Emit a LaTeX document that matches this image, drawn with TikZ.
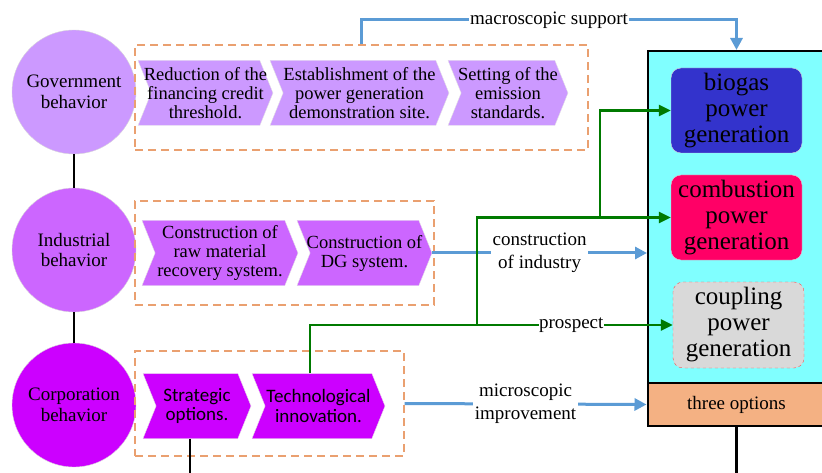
\documentclass[tikz,border=0pt]{standalone}
\usepackage{fontspec}
\setmainfont{Liberation Serif}
\newfontfamily\calfont{Carlito}
\usetikzlibrary{arrows.meta,shapes.symbols,positioning,calc}
\definecolor{govc}{RGB}{204,153,255}
\definecolor{indc}{RGB}{204,102,255}
\definecolor{corpc}{RGB}{204,0,255}
\definecolor{dashc}{RGB}{234,160,112}
\definecolor{bluec}{RGB}{91,155,213}
\definecolor{grnc}{RGB}{0,122,0}
\definecolor{cyanc}{RGB}{128,255,255}
\definecolor{bioc}{RGB}{51,51,204}
\definecolor{combc}{RGB}{255,0,102}
\definecolor{coupc}{RGB}{217,217,217}
\definecolor{optc}{RGB}{244,177,131}

\begin{document}
\begin{tikzpicture}[x=1pt,y=-1pt,
    actor/.style={circle, fill=#1, draw=gray!30, minimum size=124pt, inner sep=0pt,
                  align=center, font=\fontsize{19}{20.5}\selectfont},
    chev/.style={signal, signal to=east, signal from=west, signal pointer angle=136,
                 fill=#1, draw=gray!20, minimum height=65pt, inner ysep=0pt, inner xsep=-14pt,
                 align=center, font=\fontsize{18.5}{19}\selectfont},
    grp/.style={draw=dashc, dash pattern=on 8pt off 5pt, line width=1.2pt},
    tier/.style={rounded corners=10pt, fill=#1, draw=gray!30, minimum width=131pt,
                 minimum height=85pt, align=center, font=\fontsize{25}{26}\selectfont},
    blu/.style={draw=bluec, line width=3pt, -{Triangle[length=12pt,width=12pt]}},
    grn/.style={draw=grnc, line width=2.5pt, -{Triangle[length=12pt,width=11pt]}},
    blk/.style={draw=black, line width=2.8pt},
    lbl/.style={fill=white, inner sep=1.5pt, align=center, font=\fontsize{19}{23}\selectfont}]

    \useasboundingbox (0,0) rectangle (822,473);
    \clip (0,0) rectangle (822,473);

    % actors on the left
    \node[actor=govc]  (gov)  at (74,92)  {Government\\behavior};
    \node[actor=indc]  (ind)  at (74,250) {Industrial\\behavior};
    \node[actor=corpc] (corp) at (74,405) {Corporation\\behavior};
    \draw[blk] (gov) -- (ind);
    \draw[blk] (ind) -- (corp);

    % dashed groups
    \node[grp, minimum width=453pt, minimum height=105pt] (govbox)  at (361.5,97.5)  {};
    \node[grp, minimum width=299pt, minimum height=104pt] (indbox)  at (284.5,253)   {};
    \node[grp, minimum width=269pt, minimum height=105pt] (corpbox) at (269.5,403.5) {};

    % measures
    \node[chev=govc, minimum width=135pt] (gov1) at (205.5,93) {Reduction of the\\financing credit\\threshold.};
    \node[chev=govc, minimum width=179pt] (gov2) at (359.5,93) {Establishment of the\\power generation\\demonstration site.};
    \node[chev=govc, minimum width=120pt] (gov3) at (508,93)   {Setting of the\\emission\\standards.};
    \node[chev=indc, minimum width=156pt] (ind1) at (220,253)  {Construction of\\raw material\\recovery system.};
    \node[chev=indc, minimum width=135pt] (ind2) at (364.5,253) {Construction of\\DG system.};
    \node[chev=corpc, minimum width=108pt, font=\calfont\fontsize{19}{19.5}\selectfont] (strat) at (197,406)   {Strategic\\options.};
    \node[chev=corpc, minimum width=133pt, font=\calfont\fontsize{19}{19.5}\selectfont] (tech)  at (318.5,406) {Technological\\innovation.};

    % generation panel
    \node[draw, line width=2pt, fill=cyanc, minimum width=177pt, minimum height=332pt] (panel) at (736.5,217) {};
    \node[tier=bioc]  (bio)  at (736.5,110.5) {biogas\\power\\generation};
    \node[tier=combc] (comb) at (736.5,217.5) {combustion\\power\\generation};
    \node[tier=coupc, draw=red!70, dashed, minimum height=86pt] (coup) at (738.5,325) {coupling\\power\\generation};
    \node[draw, line width=2pt, fill=optc, minimum width=178pt, minimum height=43pt,
          font=\fontsize{19}{21}\selectfont] (opts) at (736.5,404.5) {three options};

    % blue links
    \coordinate (mtop) at (361.5,20);
    \draw[blu] (govbox.north) -- (mtop) -| node[lbl, pos=0.25] {macroscopic support} (panel.north);
    \draw[blu] (ind2.east) -- node[lbl] {construction\\of industry} (ind2.east -| panel.west);
    \draw[blu] (corpbox.east) -- node[lbl] {microscopic\\improvement} (opts.west);

    % green links
    \coordinate (gA) at (477,0 |- coup.west);
    \coordinate (gB) at (600,0 |- comb.west);
    \draw[grn] ([xshift=-8.5pt]tech.north) |- node[lbl, pos=0.86, inner sep=0.5pt] {prospect} (coup.west);
    \draw[grn] (gA) |- (comb.west);
    \draw[grn] (gB) |- (bio.west);

    % loose ends
    \coordinate (stratEnd) at (190,480);
    \coordinate (optsEnd)  at (opts.south |- 0,480);
    \draw[blk, line width=2.2pt] (stratEnd |- strat.south) -- (stratEnd);
    \draw[blk, line width=2.2pt] (opts.south) -- (optsEnd);
\end{tikzpicture}
\end{document}
